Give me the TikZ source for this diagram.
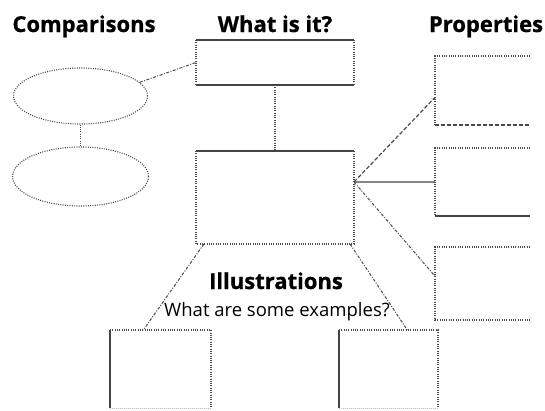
\documentclass[tikz,border=0pt]{standalone}
\usepackage{fontspec}
\setmainfont{Open Sans}[BoldFeatures={FakeBold=0.8}]
\usetikzlibrary{shapes.geometric,calc}
\definecolor{ln}{HTML}{4a4a4a}
\definecolor{lnd}{HTML}{444444}
\tikzset{
 dotline/.style={draw=ln, line width=1.1pt, dash pattern=on 1pt off 1.3pt},
 solidline/.style={draw=lnd, line width=1.3pt},
 dashline/.style={draw=ln, line width=1.2pt, dash pattern=on 4pt off 2pt},
 dashdot/.style={draw=ln, line width=1pt, dash pattern=on 3pt off 1.5pt on 1pt off 1.5pt},
 faint/.style={draw=ln!40, line width=1pt, dash pattern=on 1pt off 1pt},
 area/.style={inner sep=0pt, outer sep=0pt},
 title/.style={font=\bfseries\fontsize{22}{26}\selectfont, inner sep=0pt, anchor=base},
 sub/.style={font=\fontsize{18.5}{22}\selectfont, inner sep=0pt, anchor=base},
}
\begin{document}
\begin{tikzpicture}[x=1pt,y=-1pt]
\useasboundingbox (0,0) rectangle (545,410);
% titles
\node[title] (t1) at (84,32) {Comparisons};
\node[title] (t2) at (275,32) {What is it?};
\node[title] (t3) at (486,32) {Properties};
\node[title] (t4) at (276,289) {Illustrations};
\node[sub] (t5) at (277,316) {What are some examples?};
% areas
\node[area, minimum width=158pt, minimum height=45pt] (a) at (275,62.5) {};
\node[area, minimum width=158pt, minimum height=93pt] (b) at (275,197.5) {};
\node[ellipse, dotline, inner sep=0pt, minimum width=134pt, minimum height=56pt] (e1) at (80.5,96) {};
\node[ellipse, dotline, inner sep=0pt, minimum width=136pt, minimum height=59pt] (e2) at (80.5,176.5) {};
\node[area, minimum width=95pt, minimum height=69pt] (p1) at (482.5,90.5) {};
\node[area, minimum width=95pt, minimum height=68pt] (p2) at (482.5,182) {};
\node[area, minimum width=95pt, minimum height=73pt] (p3) at (482.5,283.5) {};
\node[area, minimum width=101pt, minimum height=78pt] (L) at (160.5,369) {};
\node[area, minimum width=99pt, minimum height=78pt] (R) at (388.5,369) {};
% box a
\draw[solidline] (a.north west) -- (a.north east);
\draw[solidline] (a.south west) -- (a.south east);
\draw[dotline] (a.north west) -- (a.south west);
\draw[dotline] (a.north east) -- (a.south east);
% box b
\draw[solidline] (b.north west) -- (b.north east);
\draw[dotline] (b.north west) -- (b.south west) -- (b.south east) -- (b.north east);
% properties
\draw[dotline] (p1.north east) -- (p1.north west) -- (p1.south west);
\draw[dashline] (p1.south west) -- (p1.south east);
\draw[dotline] (p2.north east) -- (p2.north west) -- (p2.south west);
\draw[solidline] (p2.south west) -- (p2.south east);
\draw[dotline] (p3.north east) -- (p3.north west) -- (p3.south west) -- (p3.south east);
% illustrations
\draw[solidline] (L.north west) -- (L.south west);
\draw[dotline] (L.north west) -- (L.north east) -- (L.south east);
\draw[faint] (L.south west) -- (L.south east);
\draw[solidline] (R.north west) -- (R.south west);
\draw[dotline] (R.north west) -- (R.north east) -- (R.south east);
\draw[faint] (R.south west) -- (R.south east);
% connectors
\draw[dotline] (e1.south) -- (e2.north);
\draw[dashdot] (e1.13) -- (a.west);
\draw[dotline] (a.south) -- (b.north);
\coordinate (bR) at ($(b.north east)!0.333!(b.south east)$);
\draw[dashline] (bR) -- ($(p1.north west)!0.6!(p1.south west)$);
\draw[solidline] (bR) -- (p2.west);
\draw[dashdot] (bR) -- ($(p3.north west)!0.4!(p3.south west)$);
\draw[dashdot] ($(b.south west)!0.05!(b.south east)$) -- ($(L.north west)!0.33!(L.north east)$);
\draw[dashdot] ($(b.south west)!0.975!(b.south east)$) -- ($(R.north west)!0.69!(R.north east)$);
\end{tikzpicture}
\end{document}
